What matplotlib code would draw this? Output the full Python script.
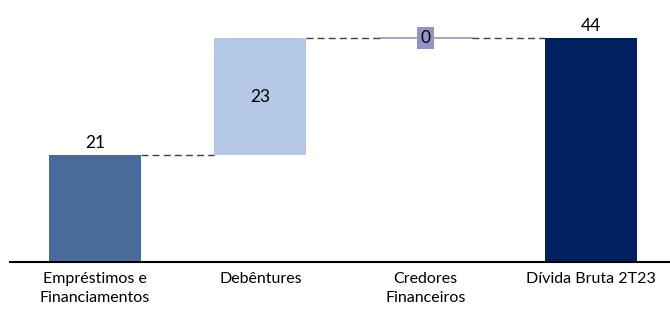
import matplotlib.pyplot as plt

categorias = ["Empréstimos e\nFinanciamentos", "Debêntures", "Credores\nFinanceiros", "Dívida Bruta 2T23"]
valores = [21, 23, 0, 44]
bases = [0, 21, 44, 0]
cores = ["#4a6a9b", "#b4c7e7", "#9494c4", "#002060"]

plt.rcParams['font.family'] = ['Lato', 'DejaVu Sans']

fig = plt.figure(figsize=(6.7, 3.1), dpi=100)
ax = fig.add_axes([0.015, 0.155, 0.985, 0.788])

x = range(len(categorias))
larg = 0.556
ax.bar(x, valores, bottom=bases, width=larg, color=cores)

# barra zero: so uma linha
ax.plot([2 - larg / 2, 2 + larg / 2], [44, 44], color=cores[2], lw=1.2)

# conectores tracejados
topos = [21, 44, 44]
for i in range(3):
    ax.plot([i + larg / 2, i + 1 - larg / 2], [topos[i], topos[i]],
            color="#404040", lw=1, ls=(0, (5, 3)))

# rotulos
fs = 11.5
ax.text(0, 21 + 0.8, "21", ha="center", va="bottom", fontsize=12.5)
ax.text(1, 21 + 23 / 2, "23", ha="center", va="center", fontsize=12.5)
ax.text(2, 44, "0", ha="center", va="center", fontsize=12.5,
        bbox=dict(boxstyle="square,pad=0.2", fc=cores[2], ec="none"))
ax.text(3, 44 + 0.8, "44", ha="center", va="bottom", fontsize=12.5)

ax.set_xlim(-0.514, 3.478)
ax.set_ylim(0, 48)
ax.set_xticks(list(x))
ax.set_xticklabels(categorias, fontsize=fs, linespacing=1.45)
ax.tick_params(axis="x", length=0, pad=7)
ax.set_yticks([])
for s in ["top", "right", "left"]:
    ax.spines[s].set_visible(False)
ax.spines["bottom"].set_linewidth(1.5)

fig.savefig("out.png", dpi=100)
